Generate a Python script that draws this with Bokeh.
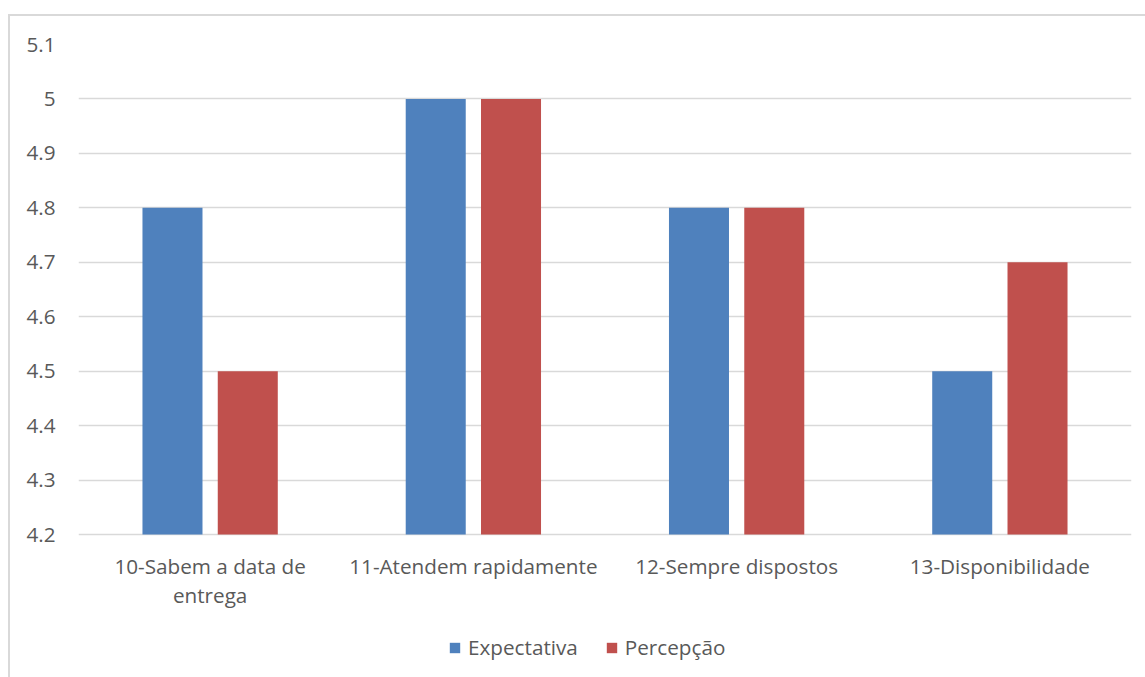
from bokeh.plotting import figure
from bokeh.models import (ColumnDataSource, FactorRange, FixedTicker, NumeralTickFormatter,
                          Legend, LegendItem)
from bokeh.core.properties import value
from bokeh.transform import dodge
from bokeh.embed import file_html
from bokeh.resources import INLINE

# Survey items and mean scores
categories = ["10-Sabem a data de entrega", "11-Atendem rapidamente",
              "12-Sempre dispostos", "13-Disponibilidade"]
label_line1 = ["10-Sabem a data de", "11-Atendem rapidamente",
               "12-Sempre dispostos", "13-Disponibilidade"]
label_line2 = ["entrega", "", "", ""]
expectativa = [4.8, 5.0, 4.8, 4.5]
percepcao = [4.5, 5.0, 4.8, 4.7]
y_ticks = [4.2, 4.3, 4.4, 4.5, 4.6, 4.7, 4.8, 4.9, 5.0, 5.1]
y_min, y_max = 4.2, 5.1

BLUE = "#4F81BD"
RED = "#C0504D"
TEXT = "#595959"
GRID = "#D9D9D9"
FONT = "Open Sans"
FS = "20.7px"

# geometry (px): the frame runs past the value axis so labels and legend sit inside it
W, H = 1140, 670
TOP, LEFT, RIGHT = 28, 68, 19
AXIS_PX = 490                     # height of the 4.2 .. 5.1 span
px_per_unit = AXIS_PX / (y_max - y_min)
frame_h = H - TOP
y_start = y_max - frame_h / px_per_unit


def below(px):
    """value that lies `px` pixels under the 4.2 baseline"""
    return y_min - px / px_per_unit


src = ColumnDataSource(dict(cat=categories, exp=expectativa, per=percepcao,
                            base=[y_min] * len(categories),
                            l1=label_line1, l2=label_line2))

p = figure(width=W, height=H, x_range=FactorRange(*categories, range_padding=0),
           y_range=(y_start, y_max), output_backend="svg", toolbar_location=None,
           min_border_left=LEFT, min_border_right=RIGHT, min_border_top=TOP,
           min_border_bottom=0, x_axis_location=None)
p.margin = (14, 0, 0, 8)
p.styles = {"border-left": "2px solid #D9D9D9", "border-top": "2px solid #D9D9D9"}

bw = 0.228
r1 = p.vbar(x=dodge("cat", -0.143, range=p.x_range), top="exp", bottom="base", width=bw,
            source=src, fill_color=BLUE, line_color=None)
r2 = p.vbar(x=dodge("cat", 0.143, range=p.x_range), top="per", bottom="base", width=bw,
            source=src, fill_color=RED, line_color=None)

p.outline_line_color = None
p.xgrid.grid_line_color = None
p.ygrid.ticker = FixedTicker(ticks=y_ticks)
p.ygrid.grid_line_color = GRID
p.ygrid.grid_line_width = 1.5

p.yaxis.ticker = FixedTicker(ticks=y_ticks)
p.yaxis.formatter = NumeralTickFormatter(format="0.[0]")
p.yaxis.axis_line_color = None
p.yaxis.major_tick_line_color = None
p.yaxis.minor_tick_line_color = None
p.yaxis.major_label_standoff = 17
p.yaxis.major_label_text_font = FONT
p.yaxis.major_label_text_font_size = FS
p.yaxis.major_label_text_color = TEXT

# category labels, wrapped onto two lines
for col, px in (("l1", 17), ("l2", 46)):
    p.text(x="cat", y=below(px), text=col, source=src, text_font=value(FONT),
           text_font_size=FS, text_color=TEXT, text_align="center", text_baseline="top")

legend = Legend(items=[LegendItem(label="Expectativa", renderers=[r1]),
                       LegendItem(label="Percepção", renderers=[r2])],
                orientation="horizontal", location=(370, 25),
                label_text_font=FONT, label_text_font_size=FS, label_text_color=TEXT,
                glyph_width=13, glyph_height=13, spacing=27, padding=0,
                label_standoff=7, border_line_color=None, background_fill_alpha=0)
p.add_layout(legend, "center")

open("out.html", "w").write(file_html(p, INLINE))
